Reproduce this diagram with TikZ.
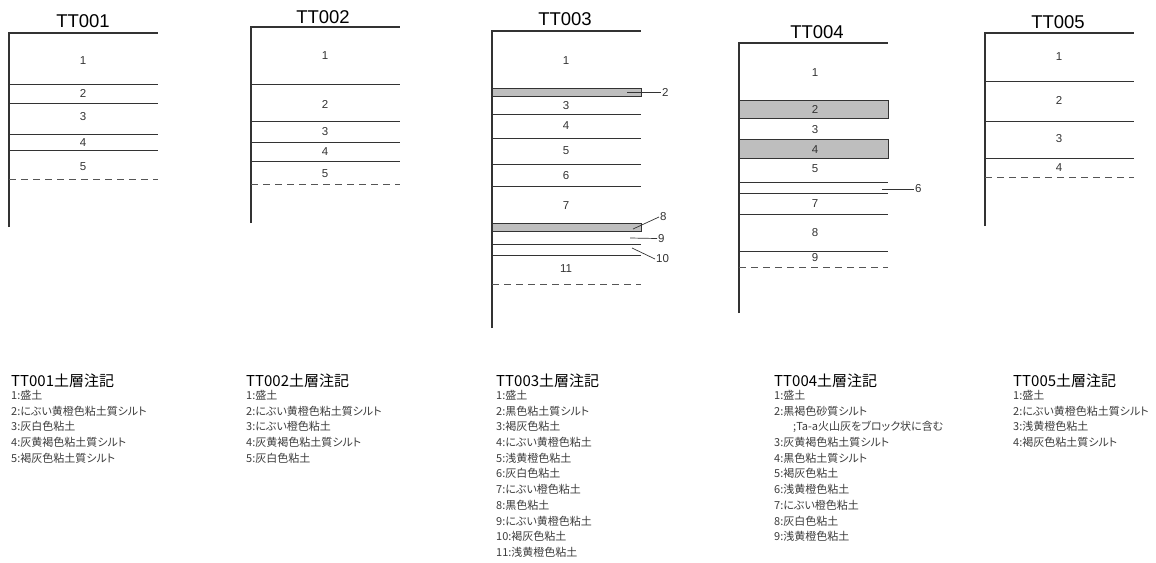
\documentclass[tikz,border=0pt]{standalone}
\usepackage{fontspec}
\setmainfont{Liberation Sans}
\newfontfamily\jpfont{Noto Sans CJK JP}
\newfontfamily\jpnarrow[RawFeature=+palt]{Noto Sans CJK JP}
\usetikzlibrary{calc}
\definecolor{ink}{HTML}{333333}
\definecolor{band}{HTML}{BEBEBE}
\definecolor{dashc}{HTML}{555555}
\definecolor{note}{HTML}{3C3C3C}
\tikzset{
  axis/.style={draw=ink, line width=1.3pt},
  layer/.style={draw=ink, line width=0.9pt},
  floor/.style={draw=dashc, line width=0.9pt, dash pattern=on 7pt off 5pt},
  bandbox/.style={fill=band, draw=ink, line width=0.9pt},
  ttl/.style={font=\fontsize{18.5}{20}\selectfont, text=black, inner sep=0pt},
  num/.style={font=\fontsize{11.5}{13}\selectfont, text=ink, inner sep=0pt},
  lead/.style={draw=ink, line width=0.7pt},
  tag/.style={num, anchor=west, inner sep=1pt},
  notettl/.style={font=\jpfont\fontsize{15}{17}\selectfont, text=black, anchor=west, inner sep=0pt},
  notebody/.style={font=\jpnarrow\fontsize{11}{15.7}\selectfont, text=note, anchor=north west, align=left, inner sep=0pt},
}

\begin{document}
\begin{tikzpicture}[x=1pt,y=-1pt]
  \useasboundingbox (0,0) rectangle (1156,562);

  % TT001
  \node[ttl] (t1) at (83,21.5) {TT001};
  \coordinate (top1) at (9,33); \coordinate (bot1) at (9,227); \coordinate (end1) at (158,33);
  \draw[axis] (bot1) -- (top1) -- (end1);
  \foreach \y in {84,103,134,150} \draw[layer] (9,\y) -- (158,\y);
  \draw[floor] (9,179) -- (158,179);
  \foreach \n/\y in {1/61,2/93,3/117,4/143,5/167} \node[num] (c1-\n) at (83,\y) {\n};

  % TT002
  \node[ttl] (t2) at (323,17) {TT002};
  \coordinate (top2) at (251,27); \coordinate (bot2) at (251,223); \coordinate (end2) at (400,27);
  \draw[axis] (bot2) -- (top2) -- (end2);
  \foreach \y in {84,121,142,161} \draw[layer] (251,\y) -- (400,\y);
  \draw[floor] (251,184) -- (400,184);
  \foreach \n/\y in {1/56,2/104,3/132,4/152,5/174} \node[num] (c2-\n) at (325,\y) {\n};

  % TT003
  \node[ttl] (t3) at (565,19) {TT003};
  \draw[bandbox] (492,88) rectangle (641,96);
  \draw[bandbox] (492,223) rectangle (641,231);
  \coordinate (top3) at (492,31); \coordinate (bot3) at (492,328); \coordinate (end3) at (641,31);
  \draw[axis] (bot3) -- (top3) -- (end3);
  \foreach \y in {114,138,164,186,244,255} \draw[layer] (492,\y) -- (641,\y);
  \draw[floor] (492,284) -- (641,284);
  \foreach \n/\y in {1/61,3/106,4/126,5/151,6/176,7/206,11/269} \node[num] (c3-\n) at (566,\y) {\n};
  \coordinate (p3-2) at (627,92);  \node[tag] (c3-2) at (661,92) {2};
  \coordinate (p3-8) at (633,229); \node[tag] (c3-8) at (659,217) {8};
  \coordinate (p3-9) at (630,238); \node[tag] (c3-9) at (657,238.5) {9};
  \coordinate (p3-10) at (632,248); \node[tag] (c3-10) at (655,259) {10};
  \foreach \n in {2,8,9,10} \draw[lead] (p3-\n) -- (c3-\n.west);

  % TT004
  \node[ttl] (t4) at (817,32) {TT004};
  \draw[bandbox] (739,100) rectangle (888,118);
  \draw[bandbox] (739,139) rectangle (888,158);
  \coordinate (top4) at (739,43); \coordinate (bot4) at (739,313); \coordinate (end4) at (888,43);
  \draw[axis] (bot4) -- (top4) -- (end4);
  \foreach \y in {182,193,214,251} \draw[layer] (739,\y) -- (888,\y);
  \draw[floor] (739,267) -- (888,267);
  \foreach \n/\y in {1/73,2/109,3/130,4/150,5/169,7/204,8/233,9/258} \node[num] (c4-\n) at (815,\y) {\n};
  \coordinate (p4-6) at (882,189); \node[tag] (c4-6) at (914,189) {6};
  \draw[lead] (p4-6) -- (c4-6.west);

  % TT005
  \node[ttl] (t5) at (1058,22) {TT005};
  \coordinate (top5) at (985,33); \coordinate (bot5) at (985,226); \coordinate (end5) at (1134,33);
  \draw[axis] (bot5) -- (top5) -- (end5);
  \foreach \y in {81,121,158} \draw[layer] (985,\y) -- (1134,\y);
  \draw[floor] (985,177) -- (1134,177);
  \foreach \n/\y in {1/57,2/100,3/139,4/168} \node[num] (c5-\n) at (1059,\y) {\n};

  % 土層注記
  \node[notettl] (h1) at (11,381) {TT001土層注記};
  \node[notebody] (l1) at (11,390) {1:盛土\\2:にぶい黄橙色粘土質シルト\\3:灰白色粘土\\4:灰黄褐色粘土質シルト\\5:褐灰色粘土質シルト};
  \node[notettl] (h2) at (246,381) {TT002土層注記};
  \node[notebody] (l2) at (246,390) {1:盛土\\2:にぶい黄橙色粘土質シルト\\3:にぶい橙色粘土\\4:灰黄褐色粘土質シルト\\5:灰白色粘土};
  \node[notettl] (h3) at (496,381) {TT003土層注記};
  \node[notebody] (l3) at (496,390) {1:盛土\\2:黒色粘土質シルト\\3:褐灰色粘土\\4:にぶい黄橙色粘土\\5:浅黄橙色粘土\\6:灰白色粘土\\7:にぶい橙色粘土\\8:黒色粘土\\9:にぶい黄橙色粘土\\10:褐灰色粘土\\11:浅黄橙色粘土};
  \node[notettl] (h4) at (774,381) {TT004土層注記};
  \node[notebody] (l4) at (774,390) {1:盛土\\2:黒褐色砂質シルト\\\hspace*{19pt};Ta-a火山灰をブロック状に含む\\3:灰黄褐色粘土質シルト\\4:黒色粘土質シルト\\5:褐灰色粘土\\6:浅黄橙色粘土\\7:にぶい橙色粘土\\8:灰白色粘土\\9:浅黄橙色粘土};
  \node[notettl] (h5) at (1013,381) {TT005土層注記};
  \node[notebody] (l5) at (1013,390) {1:盛土\\2:にぶい黄橙色粘土質シルト\\3:浅黄橙色粘土\\4:褐灰色粘土質シルト};
\end{tikzpicture}
\end{document}
